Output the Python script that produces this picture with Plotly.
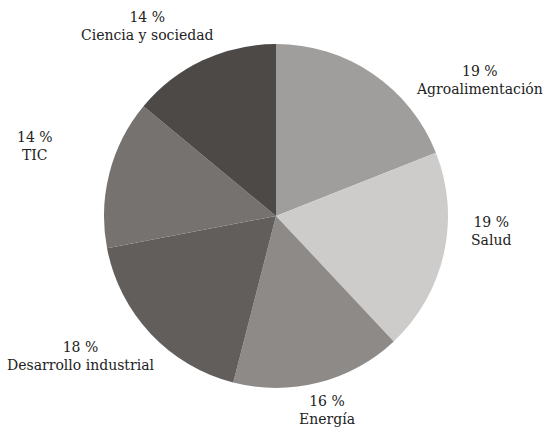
import plotly.graph_objects as go

sectores = ["Agroalimentación", "Salud", "Energía", "Desarrollo industrial", "TIC", "Ciencia y sociedad"]
porcentajes = [19, 19, 16, 18, 14, 14]
colores = ["#a09e9c", "#cdcccb", "#8d8a88", "#615e5b", "#76726f", "#4c4947"]

# label placement (pixels from top-left) per slice
etiquetas_pos = [(479, 80), (491, 231), (327, 410), (80, 356), (35, 146), (147, 26)]

W, H = 545, 429
fig = go.Figure(go.Pie(
    labels=sectores,
    values=porcentajes,
    sort=False,
    direction="clockwise",
    rotation=0,
    marker=dict(colors=colores, line=dict(width=0)),
    textinfo="none",
    hoverinfo="label+percent",
    showlegend=False,
    domain=dict(x=[104 / W, 448 / W], y=[1 - 388 / H, 1 - 44 / H]),
))

for nombre, pct, (px, py) in zip(sectores, porcentajes, etiquetas_pos):
    fig.add_annotation(
        x=px / W, y=1 - py / H, xref="paper", yref="paper",
        text=f"{pct} %<br>{nombre}",
        showarrow=False, align="center",
        xanchor="center", yanchor="middle",
        font=dict(family="DejaVu Serif, serif", size=14, color="#222222"),
    )

fig.update_layout(
    width=W, height=H,
    margin=dict(l=0, r=0, t=0, b=0),
    paper_bgcolor="white",
    plot_bgcolor="white",
)

fig.write_html("out.html", config={"displayModeBar": False},
               post_script="document.body.style.margin='0';")
